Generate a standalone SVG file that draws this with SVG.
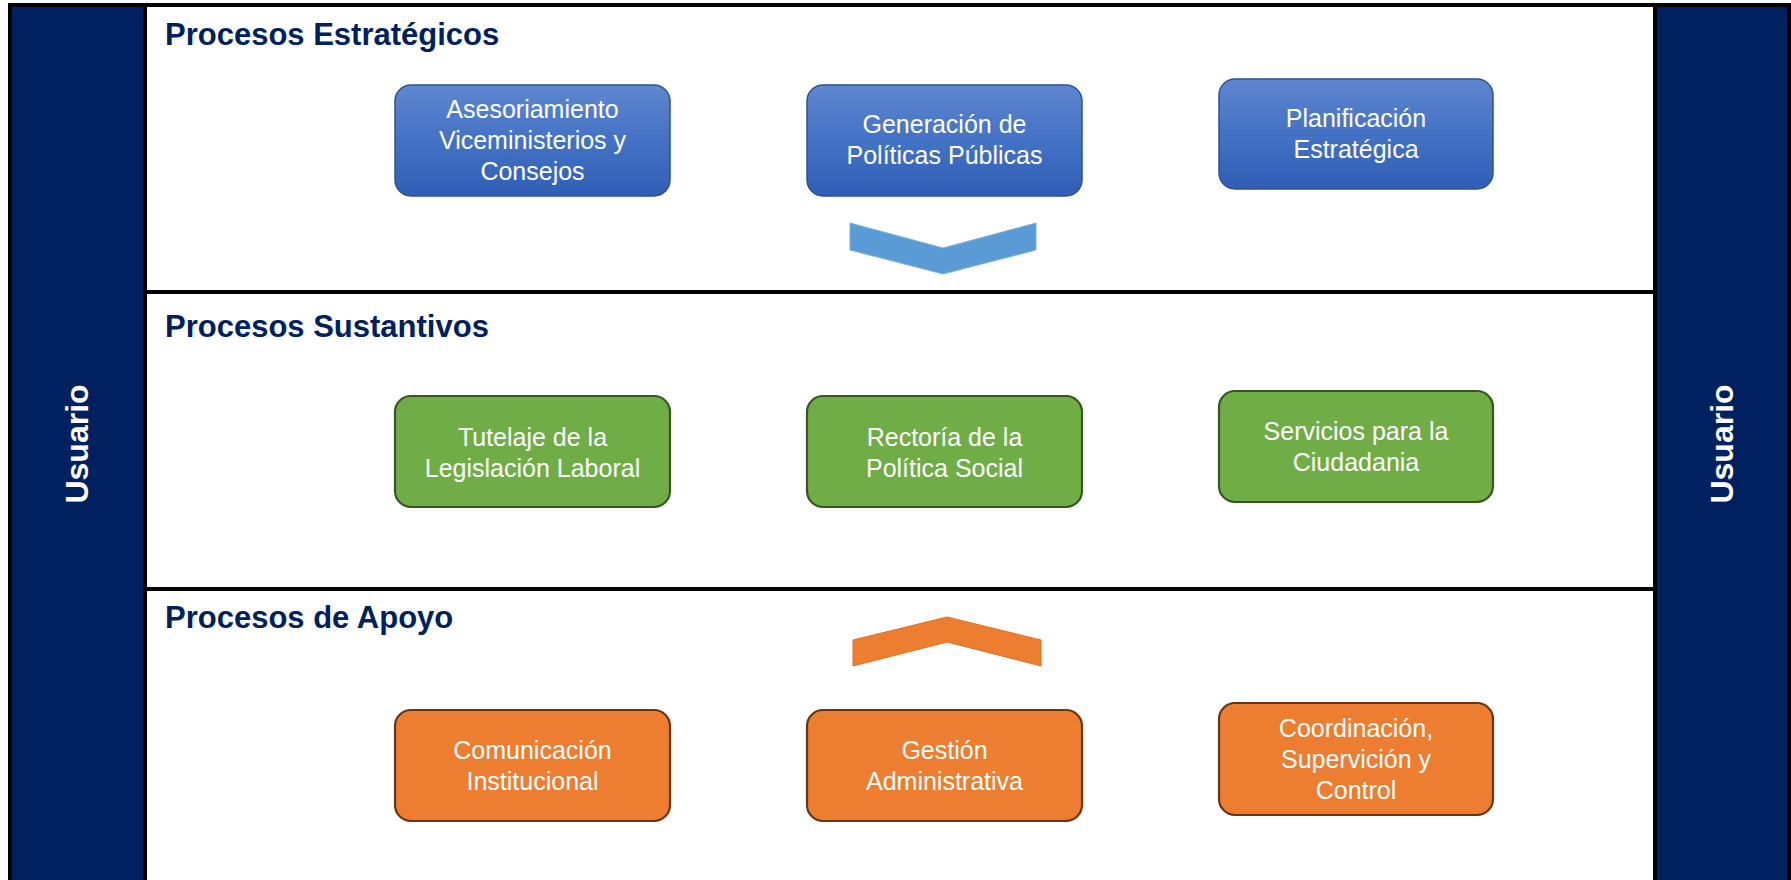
<svg xmlns="http://www.w3.org/2000/svg" width="1791" height="880" viewBox="0 0 1791 880">
<style>
.band{fill:#002060;stroke:#000;stroke-width:4}
.sep{stroke:#000;stroke-width:4}
.title{font-family:"Liberation Sans",Arial,sans-serif;font-weight:bold;font-size:31px;fill:#002060}
.usr{font-family:"Liberation Sans",Arial,sans-serif;font-weight:bold;font-size:32px;fill:#fff;text-anchor:middle}
.lbl{font-family:"Liberation Sans",Arial,sans-serif;font-size:25px;fill:#fff;text-anchor:middle}
.blue{fill:url(#gb);stroke:#2F528F;stroke-width:1.5}
.green{fill:#70AD47;stroke:#375623;stroke-width:2.2}
.orange{fill:#ED7D31;stroke:#6B3512;stroke-width:2.2}
</style>
<defs>
<linearGradient id="gb" x1="0" y1="0" x2="0" y2="1">
<stop offset="0" stop-color="#5F86D0"/>
<stop offset="0.5" stop-color="#4472C4"/>
<stop offset="1" stop-color="#305EB6"/>
</linearGradient>
</defs>
<rect width="1791" height="880" fill="#fff"/>
<g id="frame">
<line x1="8" y1="5" x2="1790" y2="5" class="sep"/>
<line x1="145" y1="292" x2="1655" y2="292" class="sep"/>
<line x1="145" y1="589" x2="1655" y2="589" class="sep"/>
</g>
<g id="usuario-left">
<rect x="10" y="5" width="135" height="880" class="band"/>
<text class="usr" transform="translate(88,444) rotate(-90)">Usuario</text>
</g>
<g id="usuario-right">
<rect x="1655" y="5" width="134" height="880" class="band"/>
<text class="usr" transform="translate(1733,444) rotate(-90)">Usuario</text>
</g>
<g id="titles">
<text class="title" x="165" y="45">Procesos Estratégicos</text>
<text class="title" x="165" y="337">Procesos Sustantivos</text>
<text class="title" x="165" y="628">Procesos de Apoyo</text>
</g>
<g id="connectors">
<polygon points="850,223 943,248 1036,223 1036,250 943,274 850,250" fill="#5B9BD5" stroke="#7FB0DE" stroke-width="1"/>
<polygon points="853,640 947,617 1041,640 1041,666 947,642 853,666" fill="#ED7D31" stroke="#E07020" stroke-width="1"/>
</g>
<g id="asesoriamiento">
<rect x="395" y="85" width="275" height="111" rx="16" class="blue"/>
<text class="lbl" x="532.5" y="118">Asesoriamiento</text>
<text class="lbl" x="532.5" y="149">Viceministerios y</text>
<text class="lbl" x="532.5" y="180">Consejos</text>
</g>
<g id="generacion">
<rect x="807" y="85" width="275" height="111" rx="16" class="blue"/>
<text class="lbl" x="944.5" y="133">Generación de</text>
<text class="lbl" x="944.5" y="164">Políticas Públicas</text>
</g>
<g id="planificacion">
<rect x="1219" y="79" width="274" height="110" rx="16" class="blue"/>
<text class="lbl" x="1356" y="127">Planificación</text>
<text class="lbl" x="1356" y="158">Estratégica</text>
</g>
<g id="tutelaje">
<rect x="395" y="396" width="275" height="111" rx="16" class="green"/>
<text class="lbl" x="532.5" y="446">Tutelaje de la</text>
<text class="lbl" x="532.5" y="477">Legislación Laboral</text>
</g>
<g id="rectoria">
<rect x="807" y="396" width="275" height="111" rx="16" class="green"/>
<text class="lbl" x="944.5" y="446">Rectoría de la</text>
<text class="lbl" x="944.5" y="477">Política Social</text>
</g>
<g id="servicios">
<rect x="1219" y="391" width="274" height="111" rx="16" class="green"/>
<text class="lbl" x="1356" y="440">Servicios para la</text>
<text class="lbl" x="1356" y="471">Ciudadania</text>
</g>
<g id="comunicacion">
<rect x="395" y="710" width="275" height="111" rx="16" class="orange"/>
<text class="lbl" x="532.5" y="759">Comunicación</text>
<text class="lbl" x="532.5" y="790">Institucional</text>
</g>
<g id="gestion">
<rect x="807" y="710" width="275" height="111" rx="16" class="orange"/>
<text class="lbl" x="944.5" y="759">Gestión</text>
<text class="lbl" x="944.5" y="790">Administrativa</text>
</g>
<g id="coordinacion">
<rect x="1219" y="703" width="274" height="112" rx="16" class="orange"/>
<text class="lbl" x="1356" y="737">Coordinación,</text>
<text class="lbl" x="1356" y="768">Supervición y</text>
<text class="lbl" x="1356" y="799">Control</text>
</g>
</svg>
